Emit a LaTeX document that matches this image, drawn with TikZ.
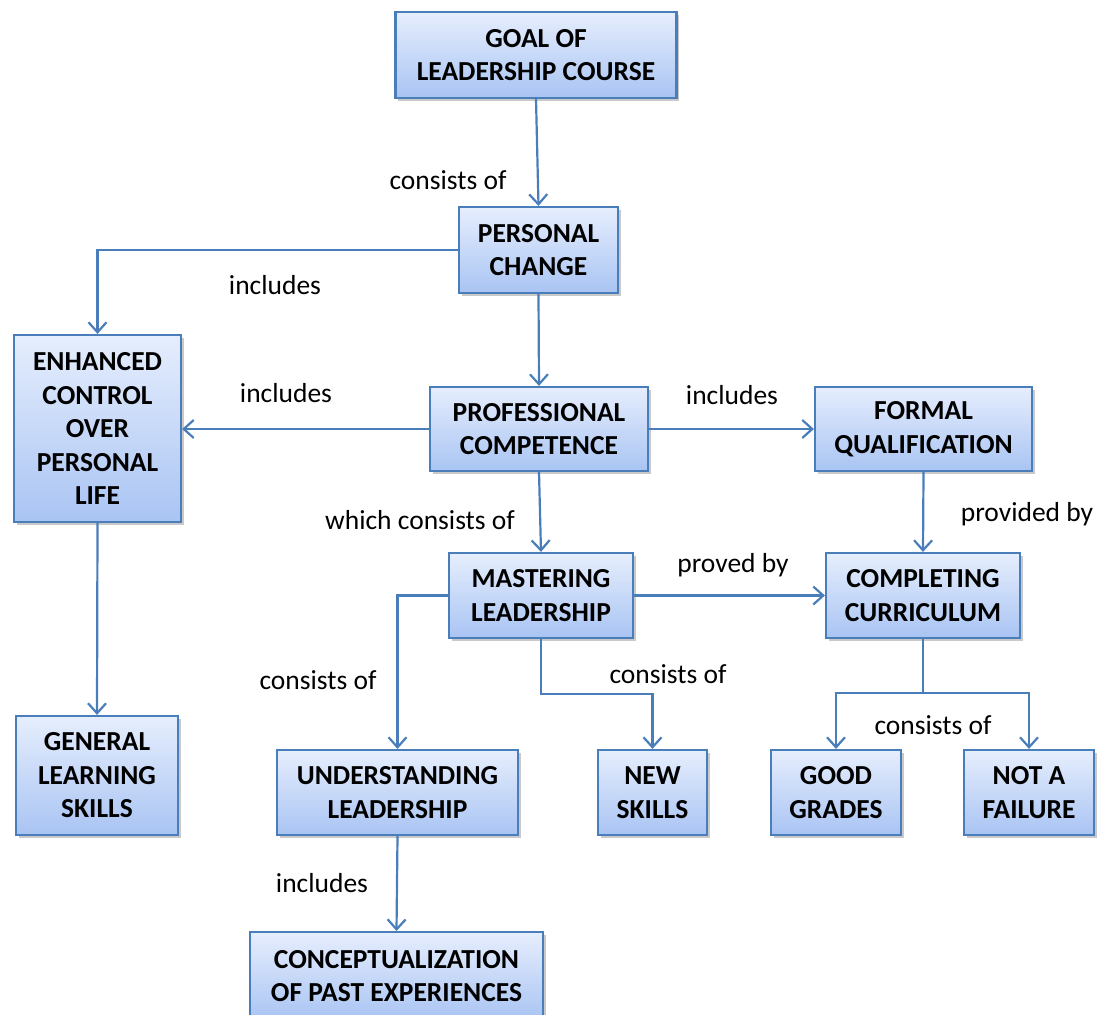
\documentclass[tikz,border=0pt]{standalone}
\usepackage{fontspec}
\setmainfont{Carlito}
\usetikzlibrary{arrows.meta,shadows}
\definecolor{edgeblue}{HTML}{4A7EBB}
\definecolor{boxtop}{HTML}{E6EEFD}
\definecolor{boxbot}{HTML}{A9C4F3}
\tikzset{
  box/.style={draw=edgeblue, line width=2.2pt, top color=boxtop, bottom color=boxbot,
    align=center, font=\fontsize{27.5}{33.5}\selectfont\bfseries, inner sep=0pt,
    drop shadow={shadow xshift=2.5pt, shadow yshift=-3pt, opacity=0.3, fill=black!70}},
  link/.style={draw=edgeblue, line width=2.2pt,
    -{Straight Barb[length=10pt, width=18pt, line width=2.2pt]}},
  lbl/.style={font=\fontsize{27.5}{30}\selectfont, inner sep=0pt}
}
\begin{document}
\begin{tikzpicture}[x=1pt, y=1pt]
\useasboundingbox (0,0) rectangle (1099,-1014);

% concept boxes
\node[box, minimum width=281, minimum height=86] (goal) at (536,-55) {GOAL OF\\LEADERSHIP COURSE};
\node[box, minimum width=159, minimum height=86] (pers) at (538.5,-250) {PERSONAL\\CHANGE};
\node[box, minimum width=167, minimum height=187] (enh) at (97.5,-428.5) {ENHANCED\\CONTROL\\OVER\\PERSONAL\\LIFE};
\node[box, minimum width=218, minimum height=84] (prof) at (539,-429) {PROFESSIONAL\\COMPETENCE};
\node[box, minimum width=217, minimum height=84] (form) at (923.5,-429) {FORMAL\\QUALIFICATION};
\node[box, minimum width=184, minimum height=85] (mast) at (541,-595.5) {MASTERING\\LEADERSHIP};
\node[box, minimum width=194, minimum height=85] (comp) at (923,-595.5) {COMPLETING\\CURRICULUM};
\node[box, minimum width=162, minimum height=119] (gen) at (97,-775.5) {GENERAL\\LEARNING\\SKILLS};
\node[box, minimum width=241, minimum height=85] (und) at (397.5,-792.5) {UNDERSTANDING\\LEADERSHIP};
\node[box, minimum width=109, minimum height=85] (new) at (652.5,-792.5) {NEW\\SKILLS};
\node[box, minimum width=130, minimum height=85] (good) at (836,-792.5) {GOOD\\GRADES};
\node[box, minimum width=130, minimum height=85] (fail) at (1029,-792.5) {NOT A\\FAILURE};
\node[box, minimum width=293, minimum height=88, anchor=north] (conc) at (396.5,-931) {CONCEPTUALIZATION\\OF PAST EXPERIENCES};

% branch points
\coordinate (mfork) at (541,-694);
\coordinate (cfork) at (923,-693);

% connectors
\draw[link] (goal.south) -- (pers.north);
\draw[link] (pers.west) -| (enh.north);
\draw[link] (pers.south) -- (prof.north);
\draw[link] (prof.west) -- (enh.east |- prof.west);
\draw[link] (prof.east) -- (form.west);
\draw[link] (prof.south) -- (mast.north);
\draw[link] (form.south) -- (comp.north);
\draw[link] (mast.east) -- (comp.west);
\draw[link] (mast.west) -| (und.north);
\draw[link] (mast.south) -- (mfork) -| (new.north);
\draw[link] (comp.south) -- (cfork) -| (good.north);
\draw[link] (cfork) -| (fail.north);
\draw[link] (enh.south) -- (gen.north);
\draw[link] (und.south) -- (conc.north);

% connector labels
\node[lbl] (l1) at (448,-180) {consists of};
\node[lbl] (l2) at (275,-285) {includes};
\node[lbl] (l3) at (286,-393) {includes};
\node[lbl] (l4) at (732,-395) {includes};
\node[lbl] (l5) at (420,-520) {which consists of};
\node[lbl] (l6) at (1027,-514) {provided by};
\node[lbl] (l7) at (733,-565) {proved by};
\node[lbl] (l8) at (318,-680) {consists of};
\node[lbl] (l9) at (668,-674) {consists of};
\node[lbl] (l10) at (933,-725) {consists of};
\node[lbl] (l11) at (322,-883) {includes};
\end{tikzpicture}
\end{document}
